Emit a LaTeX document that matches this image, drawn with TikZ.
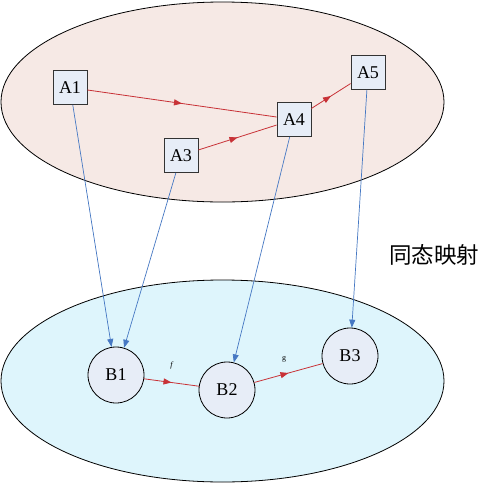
\documentclass[tikz,border=0pt]{standalone}
\usepackage{fontspec}
\setmainfont{Liberation Serif}
\newfontfamily\cjk{Noto Sans CJK SC}
\usetikzlibrary{arrows.meta,decorations.markings}
\definecolor{topfill}{RGB}{246,233,229}
\definecolor{botfill}{RGB}{222,245,252}
\definecolor{nodefill}{RGB}{231,237,247}
\definecolor{redline}{RGB}{200,50,55}
\definecolor{blueline}{RGB}{70,120,195}
\tikzset{
  setshape/.style={draw=black,line width=0.8pt},
  boxnode/.style={draw=black!80,line width=0.9pt,fill=nodefill,minimum size=34pt,inner sep=0pt,font=\fontsize{18}{18}\selectfont},
  circnode/.style={circle,draw=black,line width=0.8pt,fill=nodefill,minimum size=56pt,inner sep=0pt,font=\fontsize{18}{18}\selectfont},
  redarrow/.style={draw=redline,line width=0.8pt,postaction={decorate},
    decoration={markings,mark=at position 0.5 with {\arrow{Triangle[length=8pt,width=6pt]}}}},
  bluearrow/.style={draw=blueline,line width=0.7pt,-{Triangle[length=8pt,width=6pt]}},
  smalllabel/.style={font=\fontsize{8}{8}\selectfont,inner sep=0pt}
}
\begin{document}
\begin{tikzpicture}[x=1pt,y=-1pt]
\useasboundingbox (0,0) rectangle (483,483);
\fill[white] (0,0) rectangle (483,483);
\draw[setshape,fill=topfill] (222.5,102) ellipse [x radius=221.5,y radius=100];
\draw[setshape,fill=botfill] (222.5,381) ellipse [x radius=221.5,y radius=101];

\node[boxnode] (A1) at (70,87.5) {A1};
\node[boxnode] (A3) at (181,155.5) {A3};
\node[boxnode] (A4) at (294,119.5) {A4};
\node[boxnode] (A5) at (368,72.5) {A5};

\node[circnode] (B1) at (116,375) {B1};
\node[circnode] (B2) at (227,390) {B2};
\node[circnode] (B3) at (350,356) {B3};

\draw[redarrow] (A1) -- (A4);
\draw[redarrow] (A3) -- (A4);
\draw[redarrow] (A4) -- (A5);
\draw[redarrow] (B1) -- (B2);
\draw[redarrow] (B2) -- (B3);

\draw[bluearrow] (A1) -- (B1);
\draw[bluearrow] (A3) -- (B1);
\draw[bluearrow] (A4) -- (B2);
\draw[bluearrow] (A5) -- (B3);

\node[smalllabel] (f) at (172,366) {\textit{f}};
\node[smalllabel] (g) at (284,359) {g};

\node[font=\cjk\fontsize{22.5}{22.5}\selectfont,inner sep=0pt] (map) at (434,255) {同态映射};
\end{tikzpicture}
\end{document}
